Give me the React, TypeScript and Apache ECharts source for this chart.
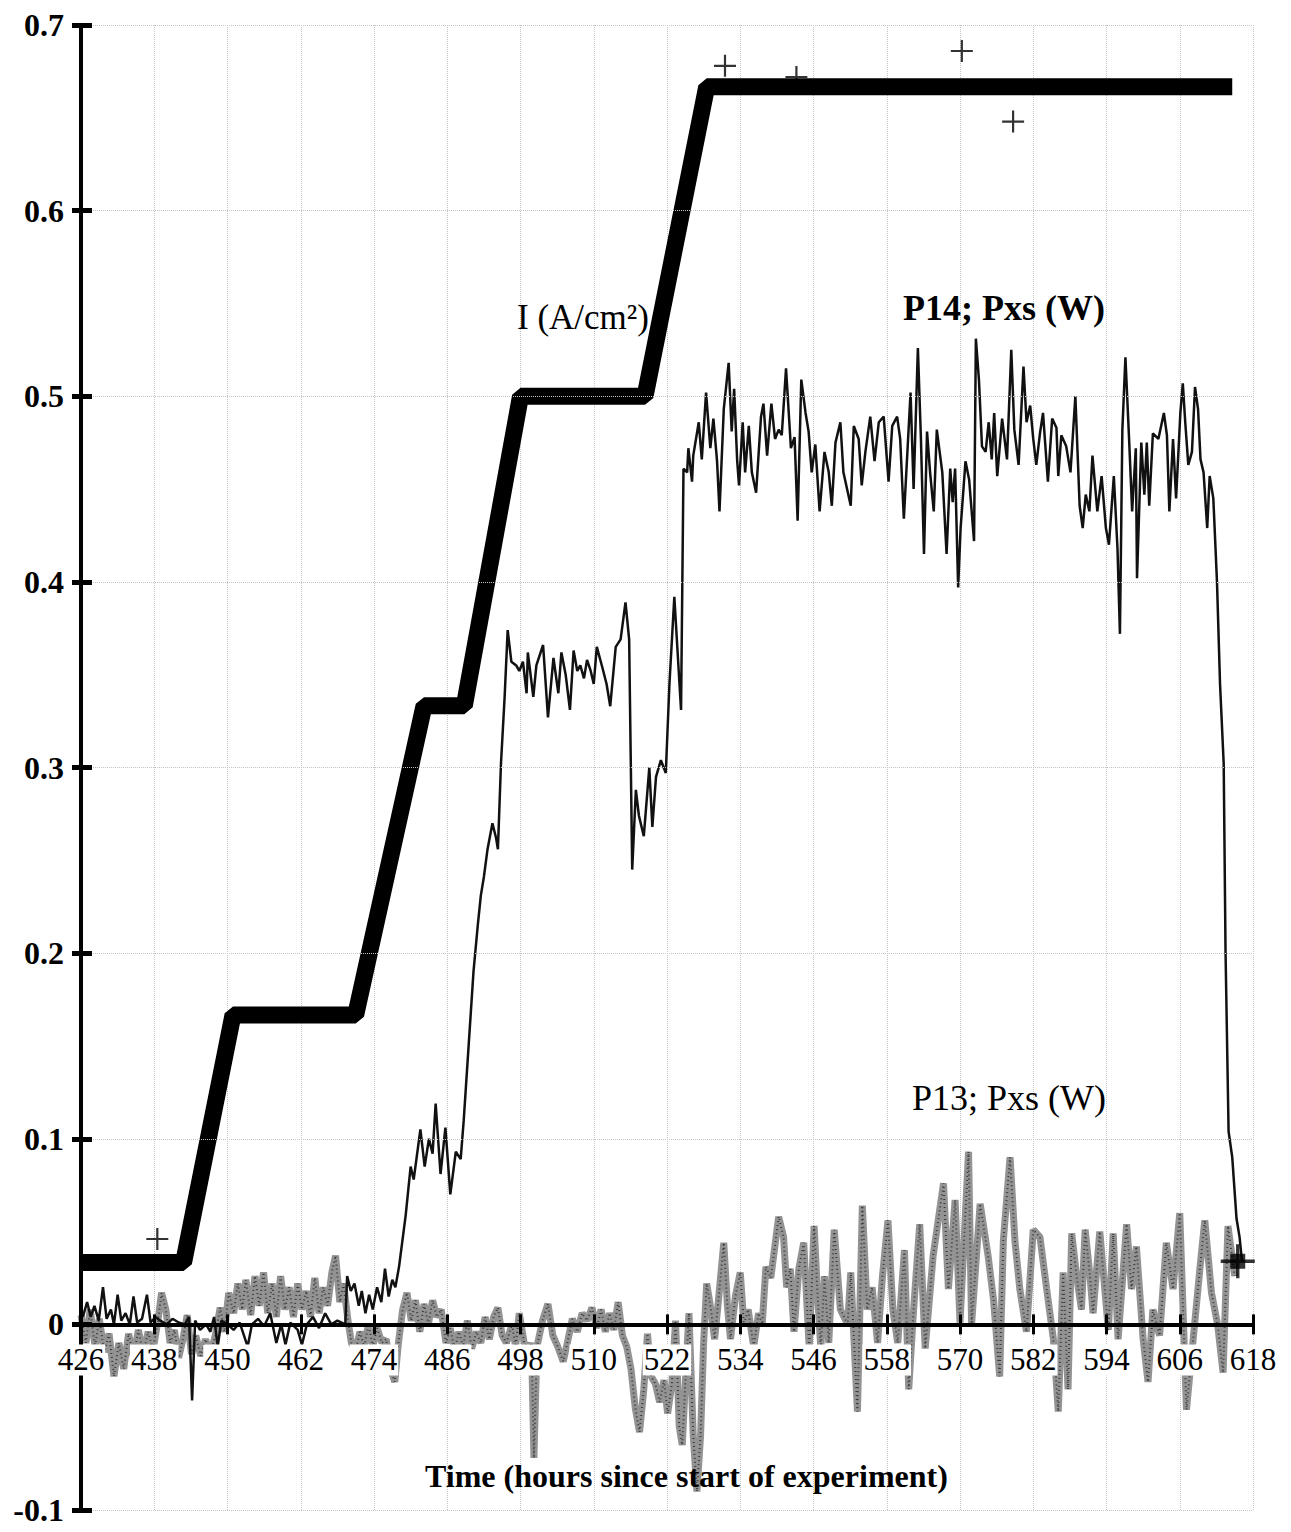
import React, { useEffect, useRef } from 'react';
import * as echarts from 'echarts';

// ---- axes ----
const X0 = 426;
const X_MAX = 618;
const X_STEP = 12;
const Y_MIN = -0.1;
const Y_MAX = 0.7;
const Y_STEP = 0.1;

// ---- I (A/cm2): current density steps ----
const I_T = [426, 442.8, 450.9, 471.0, 482.2, 488.8, 498.0, 518.4, 528.5, 614.6];
const I_V = [0.0333, 0.0333, 0.1667, 0.1667, 0.3333, 0.3333, 0.5, 0.5, 0.6667, 0.6667];
const I_OUT_T = [438.5, 531.5, 543.2, 570.3, 578.7];
const I_OUT_V = [0.046, 0.678, 0.672, 0.686, 0.648];
const I_END_T = [615.5];
const I_END_V = [0.034];

// ---- P14; Pxs (W) ----
const P14: [number, number][] = [
  [426.3, 0.004], [427, 0.012], [427.6, 0.004], [428.2, 0.010], [428.9, 0.002], [429.6, 0.020], [430.2, 0.003],
  [430.9, 0.008], [431.4, 0.000], [432, 0.016], [432.6, 0.002], [433.3, 0.006], [434, 0.000], [434.6, 0.015],
  [435.2, 0.001], [436, 0.003], [436.8, 0.016], [437.4, 0.001], [438.2, 0.004], [439, 0.002], [440, 0.000],
  [441, 0.003], [442, 0.001], [443, 0.000], [443.7, 0.004], [444.2, -0.041], [444.7, 0.002], [445.5, -0.003],
  [446.5, 0.000], [447.2, -0.004], [447.8, 0.004], [448.4, -0.012], [449, 0.002], [450, 0.000], [451, -0.003],
  [452, 0.001], [453.3, -0.012], [454, 0.000], [455, 0.003], [456, -0.001], [457, 0.006], [458, -0.010],
  [458.8, 0.000], [459.5, -0.011], [460.3, 0.001], [461.5, -0.003], [462.2, -0.011], [463, 0.000], [464, 0.004],
  [465, -0.002], [466, 0.006], [467, 0.000], [468, 0.002], [469.3, 0.000], [469.6, 0.026], [470.2, 0.018],
  [470.8, 0.022], [471.5, 0.010], [472, 0.018], [472.6, 0.006], [473.2, 0.016], [473.8, 0.008], [474.5, 0.020],
  [475.2, 0.012], [475.8, 0.030], [476.4, 0.015], [477, 0.024], [477.5, 0.020], [478.1, 0.031], [479.2, 0.059],
  [480, 0.085], [480.5, 0.078], [481.6, 0.105], [482.3, 0.085], [483, 0.100], [483.6, 0.092], [484.1, 0.119],
  [484.9, 0.081], [485.7, 0.106], [486.5, 0.070], [487.4, 0.093], [488.2, 0.089], [488.7, 0.110], [489.5, 0.150],
  [490.3, 0.190], [491, 0.215], [491.5, 0.231], [492, 0.241], [492.6, 0.256], [493.4, 0.270], [494, 0.262],
  [494.3, 0.256], [494.8, 0.302], [495.4, 0.338], [495.9, 0.374], [496.5, 0.357], [497.3, 0.355], [497.8, 0.352],
  [498.4, 0.357], [499, 0.340], [499.2, 0.362], [500.1, 0.338], [500.6, 0.355], [501.7, 0.366], [502.5, 0.327],
  [503.4, 0.359], [504.2, 0.340], [504.7, 0.362], [505.4, 0.350], [506.1, 0.331], [506.7, 0.363], [507.3, 0.352],
  [507.8, 0.355], [508.4, 0.348], [508.9, 0.358], [509.5, 0.352], [510, 0.345], [510.5, 0.365], [511.4, 0.354],
  [512.1, 0.345], [512.7, 0.333], [513.6, 0.365], [514.4, 0.369], [515.2, 0.389], [515.8, 0.369], [516.3, 0.245],
  [516.9, 0.288], [517.4, 0.274], [518.2, 0.263], [519.1, 0.300], [519.6, 0.268], [520.2, 0.295], [521, 0.304],
  [521.8, 0.297], [522.4, 0.345], [523.2, 0.392], [524.3, 0.331], [524.7, 0.461], [525.3, 0.459], [525.5, 0.472],
  [526.1, 0.454], [526.3, 0.468], [527.2, 0.486], [527.7, 0.466], [528.4, 0.502], [529.1, 0.472], [529.6, 0.488],
  [530.2, 0.465], [530.6, 0.438], [531.3, 0.493], [532.1, 0.518], [532.6, 0.481], [533.0, 0.504], [533.5, 0.465],
  [533.8, 0.452], [534.4, 0.486], [534.8, 0.459], [535.4, 0.484], [535.9, 0.459], [536.6, 0.448], [537.4, 0.489],
  [537.8, 0.496], [538.4, 0.468], [539.1, 0.496], [539.7, 0.477], [540.3, 0.482], [540.8, 0.479], [541.5, 0.515],
  [542.3, 0.472], [542.9, 0.478], [543.4, 0.433], [544.0, 0.509], [544.7, 0.491], [545.2, 0.481], [545.7, 0.459],
  [546.3, 0.474], [547.0, 0.438], [547.8, 0.470], [548.5, 0.459], [549.0, 0.441], [549.6, 0.475], [550.4, 0.486],
  [550.9, 0.459], [551.5, 0.450], [552.1, 0.441], [552.6, 0.484], [553.4, 0.477], [553.9, 0.452], [554.5, 0.470],
  [555.3, 0.489], [556.0, 0.465], [556.7, 0.486], [557.5, 0.489], [558.3, 0.454], [558.9, 0.484], [559.7, 0.489],
  [560.2, 0.477], [560.8, 0.434], [561.9, 0.502], [562.4, 0.450], [563.1, 0.526], [563.6, 0.477], [564.1, 0.415],
  [564.6, 0.481], [565.1, 0.459], [565.7, 0.438], [566.2, 0.482], [567.1, 0.459], [567.8, 0.415], [568.4, 0.461],
  [568.8, 0.443], [569.2, 0.461], [569.7, 0.397], [570.1, 0.429], [570.9, 0.465], [571.5, 0.455], [572.3, 0.422],
  [572.6, 0.531], [573.1, 0.509], [573.6, 0.473], [574.2, 0.470], [574.7, 0.486], [575.2, 0.466], [575.6, 0.491],
  [576.1, 0.457], [576.9, 0.488], [577.7, 0.466], [578.4, 0.525], [578.9, 0.482], [579.6, 0.463], [580.4, 0.516],
  [580.9, 0.486], [581.5, 0.495], [582.0, 0.477], [582.5, 0.463], [583.1, 0.480], [583.6, 0.491], [584.4, 0.454],
  [585.1, 0.488], [585.8, 0.483], [586.1, 0.457], [586.6, 0.479], [587.4, 0.473], [588.1, 0.459], [588.9, 0.500],
  [589.6, 0.441], [590.1, 0.429], [590.6, 0.447], [591.2, 0.438], [591.7, 0.468], [592.5, 0.438], [593.2, 0.457],
  [593.9, 0.429], [594.4, 0.420], [595.2, 0.457], [595.8, 0.418], [596.2, 0.372], [596.6, 0.482], [597.1, 0.521],
  [597.7, 0.477], [598.2, 0.438], [598.8, 0.472], [599.0, 0.402], [599.7, 0.475], [600.2, 0.447], [600.6, 0.475],
  [601.0, 0.441], [601.6, 0.480], [602.5, 0.477], [603.4, 0.491], [603.9, 0.479], [604.3, 0.438], [604.9, 0.477],
  [605.4, 0.445], [606.1, 0.491], [606.5, 0.507], [606.9, 0.486], [607.4, 0.463], [608.0, 0.470], [608.5, 0.505],
  [609.0, 0.493], [609.4, 0.466], [609.9, 0.459], [610.5, 0.429], [610.9, 0.457], [611.5, 0.445], [612.1, 0.400],
  [612.6, 0.345], [613.2, 0.302], [613.5, 0.201], [614.0, 0.104], [614.6, 0.090], [615.3, 0.057], [615.8, 0.047],
  [616.2, 0.034],
];

// ---- P13; Pxs (W) ----
const P13: [number, number][] = [
  [426.0, 0.005], [426.8, -0.010], [427.5, 0.008], [428.3, -0.012], [429.0, 0.003], [429.8, -0.015], [430.6, -0.005],
  [431.4, -0.028], [432.2, -0.010], [433.0, -0.024], [433.8, -0.005], [434.6, -0.018], [435.4, -0.003], [436.2, -0.016],
  [437.0, -0.004], [437.8, -0.014], [438.6, 0.002], [439.2, 0.017], [439.9, 0.008], [440.6, -0.010], [441.3, -0.003],
  [442.0, -0.018], [442.7, -0.008], [443.4, 0.005], [444.1, -0.016], [444.8, -0.006], [445.6, -0.017], [446.4, -0.008],
  [447.2, -0.016], [448.0, -0.006], [448.8, 0.009], [449.5, -0.004], [450.2, 0.017], [451.0, 0.006], [451.7, 0.022],
  [452.4, 0.008], [453.0, 0.024], [453.8, 0.005], [454.5, 0.026], [455.2, 0.010], [455.9, 0.028], [456.6, 0.006],
  [457.3, 0.022], [458.0, 0.004], [458.7, 0.026], [459.4, 0.008], [460.1, 0.020], [460.8, 0.004], [461.5, 0.022],
  [462.2, 0.008], [462.9, 0.018], [463.6, 0.004], [464.3, 0.025], [465.0, 0.006], [465.7, 0.020], [466.4, 0.010],
  [467.1, 0.028], [467.7, 0.037], [468.4, 0.012], [469.0, 0.022], [469.7, 0.003], [470.3, -0.010], [471.0, -0.014],
  [471.7, -0.004], [472.4, -0.012], [473.1, 0.000], [473.8, -0.012], [474.5, -0.002], [475.3, -0.010], [476.0, -0.008],
  [476.7, -0.024], [477.4, -0.031], [478.0, -0.010], [478.7, 0.008], [479.4, 0.017], [480.1, 0.002], [480.8, 0.013],
  [481.5, -0.004], [482.2, 0.011], [482.9, 0.000], [483.6, 0.013], [484.3, 0.004], [485.0, 0.008], [485.8, -0.010],
  [486.5, -0.002], [487.2, -0.014], [487.9, -0.004], [488.6, -0.012], [489.3, 0.002], [490.0, -0.013], [490.8, -0.004],
  [491.5, -0.010], [492.2, 0.004], [492.9, -0.008], [493.6, 0.004], [494.3, 0.009], [495.0, -0.006], [495.7, -0.010],
  [496.6, 0.000], [497.2, -0.012], [497.8, 0.006], [498.6, -0.010], [499.4, -0.014], [499.8, -0.010], [500.2, -0.072],
  [500.7, -0.012], [501.6, 0.002], [502.5, 0.011], [503.3, -0.006], [504.1, -0.012], [505.0, -0.020], [505.8, -0.008],
  [506.5, 0.003], [507.3, -0.004], [508.1, 0.006], [508.9, 0.002], [509.7, 0.009], [510.5, -0.002], [511.2, 0.008],
  [511.9, -0.004], [512.6, 0.006], [513.3, -0.003], [514.0, 0.012], [514.7, -0.006], [515.4, -0.012], [516.1, -0.024],
  [516.8, -0.045], [517.5, -0.058], [518.2, -0.035], [518.8, -0.005], [519.4, -0.028], [520.1, -0.032], [520.8, -0.042],
  [521.5, -0.030], [522.1, -0.048], [522.8, -0.032], [523.4, 0.002], [524.0, -0.055], [524.5, -0.065], [525.1, -0.025],
  [525.6, 0.006], [526.3, -0.060], [526.9, -0.090], [527.5, -0.060], [528.0, -0.010], [528.5, 0.022], [529.2, 0.008],
  [529.8, -0.008], [530.4, 0.012], [531.3, 0.044], [531.9, 0.010], [532.4, -0.008], [533.2, 0.015], [534.0, 0.028],
  [534.6, 0.000], [535.3, 0.008], [536.2, -0.012], [537.0, 0.006], [537.6, 0.000], [538.2, 0.031], [539.0, 0.025],
  [540.3, 0.058], [541.1, 0.047], [541.6, 0.020], [542.2, 0.030], [542.8, -0.004], [543.6, 0.030], [544.4, 0.044],
  [545.3, -0.013], [546.1, 0.053], [546.6, 0.020], [547.2, -0.013], [547.8, 0.026], [548.5, -0.010], [549.4, 0.051],
  [550.4, 0.008], [551.6, 0.000], [552.1, 0.028], [553.2, -0.047], [554.0, 0.064], [554.8, 0.008], [555.6, 0.020],
  [556.5, -0.010], [557.3, 0.026], [558.2, 0.056], [559.0, 0.008], [559.8, -0.010], [560.9, 0.040], [561.6, -0.035],
  [562.4, 0.008], [563.4, 0.054], [564.3, -0.013], [565.6, 0.037], [567.3, 0.076], [568.1, 0.019], [569.2, 0.067],
  [570.0, 0.001], [571.4, 0.093], [571.9, 0.000], [573.3, 0.065], [574.6, 0.037], [575.5, 0.013], [576.5, -0.028],
  [577.1, 0.045], [578.2, 0.090], [579.0, 0.045], [579.8, 0.019], [580.9, -0.004], [582.0, 0.051], [583.1, 0.047],
  [584.2, 0.019], [585.3, -0.008], [586.1, -0.047], [586.9, 0.028], [587.7, -0.035], [588.3, 0.049], [589.1, 0.026],
  [589.9, 0.008], [590.5, 0.051], [591.3, 0.026], [591.8, 0.006], [592.9, 0.050], [594.3, -0.003], [595.1, 0.049],
  [595.9, -0.008], [597.3, 0.054], [598.1, 0.019], [598.9, 0.042], [600.0, -0.008], [600.8, -0.031], [601.6, 0.008],
  [602.7, -0.006], [603.8, 0.044], [604.9, 0.019], [606.0, 0.060], [607.1, -0.046], [608.2, -0.008], [609.3, 0.030],
  [610.1, 0.056], [611.2, 0.017], [612.2, 0.000], [613.1, -0.026], [613.9, 0.053], [615.0, 0.026],
];

const FONT = '"Liberation Serif", "Times New Roman", Times, serif';
const PLUS = 'path://M9,0h2v20h-2z M0,9h20v2h-20z';

const GRID_TOP = 25;
const GRID_BOTTOM = 22;
const GRID_H = 1532 - GRID_TOP - GRID_BOTTOM;
// distance from bottom edge of the grid (y = Y_MIN) up to y = 0
const ZERO_OFFSET = (GRID_H * (0 - Y_MIN)) / (Y_MAX - Y_MIN);

const shift = (t: number[], v: number[]) => t.map((x, i) => [x - X0, v[i]]);
const shiftPairs = (p: [number, number][]) => p.map(([x, y]) => [x - X0, y]);

export default function App() {
  const ref = useRef<HTMLDivElement>(null);
  useEffect(() => {
    if (!ref.current) return;
    const chart = echarts.init(ref.current, null, { renderer: 'svg' });
    const xCommon = {
      type: 'value',
      min: 0,
      max: X_MAX - X0,
      interval: X_STEP,
      position: 'bottom',
      offset: -ZERO_OFFSET,
    };
    const yCommon = {
      type: 'value',
      min: Y_MIN,
      max: Y_MAX,
      interval: Y_STEP,
      position: 'left',
    };
    chart.setOption({
      animation: false,
      backgroundColor: '#ffffff',
      grid: { left: 81, right: 38, top: GRID_TOP, bottom: GRID_BOTTOM, containLabel: false, outerBoundsMode: 'none' },
      xAxis: [
        {
          ...xCommon,
          z: 5,
          axisLine: { show: true, onZero: false, lineStyle: { color: '#000', width: 4 } },
          axisTick: { show: true, inside: false, length: 10, lineStyle: { color: '#000', width: 3 } },
          axisLabel: {
            show: true,
            margin: 20,
            color: '#000',
            fontFamily: FONT,
            fontSize: 31,
            backgroundColor: '#fff',
            padding: [0, 1, 0, 1],
            formatter: (v: number) => String(Math.round(v + X0)),
          },
          splitLine: { show: false },
        },
        {
          ...xCommon,
          z: 5,
          axisLine: { show: false, onZero: false },
          axisTick: { show: true, inside: true, length: 10, lineStyle: { color: '#000', width: 3 } },
          axisLabel: { show: false },
          splitLine: { show: false },
        },
        {
          type: 'value',
          min: 0,
          max: X_MAX - X0,
          interval: X_STEP,
          position: 'bottom',
          z: 0,
          axisLine: { show: false, onZero: false },
          axisTick: { show: false },
          axisLabel: { show: false },
          splitLine: { show: true, lineStyle: { color: '#c4c4c4', width: 1, type: 'dotted' } },
        },
      ],
      yAxis: [
        {
          ...yCommon,
          z: 5,
          axisLine: { show: true, onZero: false, lineStyle: { color: '#000', width: 4 } },
          axisTick: { show: true, inside: false, length: 9, lineStyle: { color: '#000', width: 5 } },
          axisLabel: {
            show: true,
            margin: 17,
            color: '#000',
            fontFamily: FONT,
            fontWeight: 'bold',
            fontSize: 32,
            lineHeight: 26,
            formatter: (v: number) => (Math.abs(v) < 1e-9 ? '0' : v.toFixed(1)),
          },
          splitLine: { show: true, lineStyle: { color: '#c4c4c4', width: 1, type: 'dotted' } },
        },
        {
          ...yCommon,
          z: 5,
          axisLine: { show: false, onZero: false },
          axisTick: { show: true, inside: true, length: 11, lineStyle: { color: '#000', width: 5 } },
          axisLabel: { show: false },
          splitLine: { show: false },
        },
      ],
      series: [
        {
          name: 'P13; Pxs (W)',
          type: 'line',
          data: shiftPairs(P13),
          showSymbol: false,
          symbol: 'none',
          lineStyle: { color: '#939393', width: 7 },
          z: 2,
        },
        {
          name: 'P13 texture',
          type: 'line',
          data: shiftPairs(P13),
          showSymbol: false,
          symbol: 'none',
          lineStyle: { color: '#3a3a3a', width: 2, type: [1, 3] },
          z: 2,
        },
        {
          name: 'P14; Pxs (W)',
          type: 'line',
          data: shiftPairs(P14),
          showSymbol: false,
          symbol: 'none',
          lineStyle: { color: '#111', width: 2.5 },
          z: 3,
        },
        {
          name: 'I (A/cm2)',
          type: 'line',
          data: shift(I_T, I_V),
          showSymbol: false,
          symbol: 'none',
          lineStyle: { color: '#000', width: 17 },
          z: 4,
        },
        {
          name: 'I outliers',
          type: 'scatter',
          data: shift(I_OUT_T, I_OUT_V),
          symbol: PLUS,
          symbolSize: 22,
          itemStyle: { color: '#000' },
          z: 4,
        },
        {
          name: 'I end',
          type: 'scatter',
          data: shift(I_END_T, I_END_V),
          symbol: 'rect',
          symbolSize: 15,
          itemStyle: { color: '#000' },
          z: 4,
        },
        {
          name: 'I end plus',
          type: 'scatter',
          data: shift(I_END_T, I_END_V),
          symbol: PLUS,
          symbolSize: 34,
          itemStyle: { color: '#000' },
          z: 4,
        },
      ],
      graphic: [
        {
          type: 'text',
          left: 517,
          top: 300,
          z: 10,
          style: { text: 'I (A/cm²)', font: `normal 35px ${FONT}`, fill: '#000' },
        },
        {
          type: 'text',
          left: 903,
          top: 290,
          z: 10,
          style: { text: 'P14; Pxs (W)', font: `bold 36px ${FONT}`, fill: '#000' },
        },
        {
          type: 'text',
          left: 912,
          top: 1080,
          z: 10,
          style: { text: 'P13; Pxs (W)', font: `normal 36px ${FONT}`, fill: '#000' },
        },
        {
          type: 'text',
          left: 425,
          top: 1460,
          z: 10,
          style: { text: 'Time (hours since start of experiment)', font: `bold 32px ${FONT}`, fill: '#000' },
        },
      ],
    });
    return () => chart.dispose();
  }, []);
  return (
    <div
      ref={ref}
      style={{ position: 'absolute', left: 0, top: 0, width: 1291, height: 1532, background: '#fff' }}
    />
  );
}
